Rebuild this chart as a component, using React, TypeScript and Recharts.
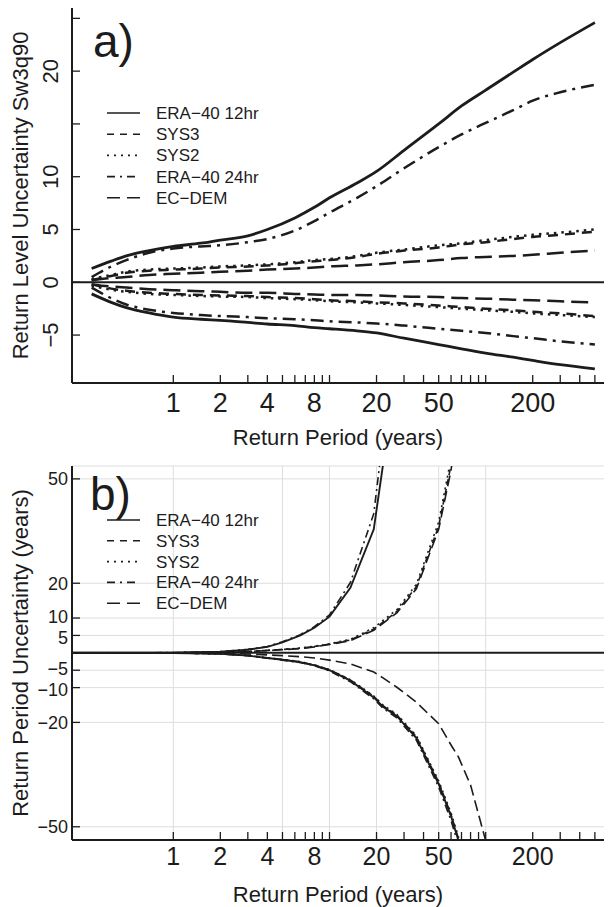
import React from "react";
import { LineChart, Line, XAxis, YAxis, CartesianGrid, ReferenceLine, Legend, Text } from "recharts";

const FONT = '"Liberation Sans", Arial, Helvetica, sans-serif';
const INK = "#1c1c1c";

// ---- panel a: return level uncertainty ----
const periodsA = [0.3, 0.4, 0.5, 0.7, 1, 1.5, 2, 3, 4, 6, 8, 10, 15, 20, 30, 50, 70, 100, 150, 200, 300, 500];
const era12UpA = [1.3, 2.0, 2.5, 3.0, 3.4, 3.7, 4.0, 4.4, 5.0, 6.1, 7.1, 8.0, 9.4, 10.5, 12.5, 15.0, 16.7, 18.2, 19.9, 21.1, 22.7, 24.6];
const era24UpA = [0.5, 1.5, 2.1, 2.8, 3.2, 3.4, 3.5, 3.8, 4.1, 4.9, 5.8, 6.6, 8.0, 9.1, 10.8, 12.8, 14.0, 15.1, 16.3, 17.2, 18.0, 18.7];
const sys3UpA = [0.2, 0.6, 0.9, 1.1, 1.2, 1.3, 1.4, 1.5, 1.6, 1.8, 2.0, 2.1, 2.4, 2.7, 3.0, 3.3, 3.6, 3.8, 4.1, 4.3, 4.5, 4.8];
const sys2UpA = [0.3, 0.7, 1.0, 1.2, 1.3, 1.4, 1.5, 1.6, 1.7, 1.9, 2.1, 2.2, 2.5, 2.8, 3.1, 3.5, 3.7, 4.0, 4.3, 4.5, 4.7, 5.0];
const ecdemUpA = [0.2, 0.4, 0.5, 0.7, 0.8, 0.9, 1.0, 1.1, 1.2, 1.3, 1.4, 1.5, 1.6, 1.7, 1.9, 2.1, 2.3, 2.4, 2.5, 2.6, 2.8, 3.0];
const era12LoA = [-1.1, -1.9, -2.4, -2.9, -3.3, -3.5, -3.6, -3.8, -3.95, -4.1, -4.3, -4.4, -4.6, -4.8, -5.3, -5.9, -6.3, -6.7, -7.1, -7.4, -7.8, -8.2];
const era24LoA = [-0.5, -1.5, -2.1, -2.6, -2.9, -3.1, -3.2, -3.3, -3.4, -3.5, -3.6, -3.7, -3.8, -3.9, -4.1, -4.4, -4.6, -4.8, -5.1, -5.3, -5.6, -5.9];
const sys3LoA = [-0.2, -0.6, -0.8, -1.0, -1.1, -1.2, -1.25, -1.3, -1.4, -1.5, -1.6, -1.7, -1.8, -1.9, -2.0, -2.2, -2.35, -2.5, -2.65, -2.8, -2.95, -3.2];
const sys2LoA = [-0.3, -0.7, -0.9, -1.1, -1.2, -1.3, -1.35, -1.4, -1.5, -1.6, -1.7, -1.8, -1.9, -2.0, -2.15, -2.35, -2.5, -2.65, -2.8, -2.95, -3.1, -3.3];
const ecdemLoA = [-0.2, -0.4, -0.5, -0.65, -0.75, -0.85, -0.9, -1.0, -1.0, -1.1, -1.15, -1.2, -1.2, -1.25, -1.35, -1.4, -1.5, -1.55, -1.65, -1.7, -1.8, -1.9];

// ---- panel b: return period uncertainty ----
const periodsB = [0.2, 1, 2, 3, 4, 5, 6.5, 8, 10, 13.6, 19.2, 22, 27, 36, 50, 60, 67, 80, 100, 110];
const era12UpB = [0, 0.05, 0.3, 0.9, 1.7, 3.0, 5.0, 7.2, 10.4, 18.7, 35.5, 54, 90, null, null, null, null, null, null, null];
const era24UpB = [0, 0.05, 0.35, 1.0, 1.8, 3.2, 5.2, 7.5, 10.9, 20.2, 40, 62, 100, null, null, null, null, null, null, null];
const sys3UpB = [0, 0.02, 0.15, 0.35, 0.7, 0.95, 1.3, 1.8, 2.5, 3.7, 6.8, 8.8, 11.9, 19, 36.4, 54, 70, null, null, null];
const sys2UpB = [0, 0.02, 0.17, 0.38, 0.75, 1.0, 1.35, 1.9, 2.6, 3.9, 7.2, 9.3, 12.4, 19.7, 37.6, 56, 72, null, null, null];
const ecdemUpB = [0, 0.02, 0.14, 0.33, 0.65, 0.9, 1.2, 1.7, 2.4, 3.5, 6.5, 8.5, 11.5, 18.4, 35.5, 52.5, 68, null, null, null];
const era12LoB = [0, -0.05, -0.3, -0.8, -1.5, -2.0, -2.7, -3.6, -5.0, -8.0, -12.8, -15.5, -18.2, -24.5, -37.7, -47, -54, -70, null, null];
const era24LoB = [0, -0.05, -0.3, -0.85, -1.55, -2.1, -2.8, -3.7, -5.2, -8.3, -13.2, -15.9, -18.7, -25.1, -38.6, -48.2, -55.5, -72, null, null];
const sys3LoB = [0, -0.04, -0.28, -0.78, -1.45, -1.95, -2.6, -3.5, -4.9, -7.8, -12.5, -15.2, -17.9, -24.1, -37.2, -46.5, -53.5, -69, null, null];
const sys2LoB = [0, -0.04, -0.28, -0.76, -1.42, -1.9, -2.55, -3.45, -4.8, -7.7, -12.4, -15.0, -17.7, -23.8, -36.8, -46, -53, -68, null, null];
const ecdemLoB = [0, -0.02, -0.15, -0.35, -0.6, -0.8, -1.1, -1.5, -2.1, -3.2, -5.5, -7.2, -9.9, -14.2, -20.4, -26.5, -30, -38, -54, -62];

// ---- axes ----
const seriesNames = ["ERA\u221240 12hr", "SYS3", "SYS2", "ERA\u221240 24hr", "EC\u2212DEM"];
const seriesKeys = ["era12", "sys3", "sys2", "era24", "ecdem"];
const periodTicks = [1, 2, 3, 4, 5, 6, 7, 8, 9, 10, 20, 30, 40, 50, 60, 70, 80, 90, 100, 200, 300, 400, 500];
const periodLabels = [1, 2, 4, 8, 20, 50, 200];
const gridPeriodsB = [1, 5, 10, 20, 50, 100];
const levelTicksA = [-5, 0, 5, 10, 15, 20, 25];
const levelLabelsA = [-5, 0, 5, 10, 20];
const periodUncTicksB = [-50, -20, -10, -5, 5, 10, 20, 50];

const X_DOMAIN = [0.2246, 572];
const Y_DOMAIN_A = [-9.54, 25.98];
const Y_DOMAIN_B = [-53.8, 53.7];

const dashA: Record<string, string | undefined> = { era12: undefined, sys3: "10 7", sys2: "2.5 5", era24: "13 6 3 6", ecdem: "17 7" };
const dashB: Record<string, string | undefined> = { era12: undefined, sys3: "6 4", sys2: "2 4", era24: "8 4 2 4", ecdem: "11 5" };
const dashLegend: Record<string, string | undefined> = { era12: undefined, sys3: "7 6", sys2: "2 5", era24: "8 5 2 5", ecdem: "13 7" };

const minus = (v: number) => (v < 0 ? "\u2212" + Math.abs(v) : String(v));

function buildRows(periods: number[], up: (number | null)[][], lo: (number | null)[][]) {
  return periods.map((t, i) => {
    const row: Record<string, number | null> = { t };
    seriesKeys.forEach((k, j) => {
      row[k + "Up"] = up[j][i];
      row[k + "Lo"] = lo[j][i];
    });
    return row;
  });
}

const rowsA = buildRows(
  periodsA,
  [era12UpA, sys3UpA, sys2UpA, era24UpA, ecdemUpA],
  [era12LoA, sys3LoA, sys2LoA, era24LoA, ecdemLoA]
);
const rowsB = buildRows(
  periodsB,
  [era12UpB, sys3UpB, sys2UpB, era24UpB, ecdemUpB],
  [era12LoB, sys3LoB, sys2LoB, era24LoB, ecdemLoB]
);

const axisLine = { stroke: INK, strokeWidth: 2 };

const BottomTick = (gap: number, size: number) => (p: any) => {
  const v = p.payload.value;
  return (
    <g>
      <line x1={p.x} x2={p.x} y1={p.y} y2={p.y - 8} stroke={INK} strokeWidth={1.3} />
      {periodLabels.includes(v) && (
        <text x={p.x} y={p.y + gap} textAnchor="middle" fontSize={size} fontFamily={FONT} fill={INK}>
          {v}
        </text>
      )}
    </g>
  );
};

const TopTick = (p: any) => <line x1={p.x} x2={p.x} y1={p.y} y2={p.y + 8} stroke={INK} strokeWidth={1.3} />;

const RightTick = (p: any) => <line x1={p.x} x2={p.x + 4} y1={p.y} y2={p.y} stroke="#555" strokeWidth={1.2} />;

// panel a: labels read bottom-to-top
const LeftTickA = (p: any) => {
  const v = p.payload.value;
  return (
    <g>
      <line x1={p.x} x2={p.x + 8} y1={p.y} y2={p.y} stroke={INK} strokeWidth={1.3} />
      {levelLabelsA.includes(v) && (
        <Text
          x={p.x - 14}
          y={p.y}
          angle={-90}
          textAnchor="middle"
          verticalAnchor="end"
          fontSize={22}
          fontFamily={FONT}
          fill={INK}
        >
          {minus(v)}
        </Text>
      )}
    </g>
  );
};

// panel b: the close pairs 5/10 and -5/-10 are eased apart a little
const nudgeB: Record<number, number> = { 10: -2, 5: 2, [-5]: -2, [-10]: 2 };
const LeftTickB = (p: any) => {
  const v = p.payload.value;
  return (
    <g>
      <line x1={p.x} x2={p.x + 8} y1={p.y} y2={p.y} stroke={INK} strokeWidth={1.3} />
      <text x={p.x - 4} y={p.y + (nudgeB[v] || 0)} dy="0.36em" textAnchor="end" fontSize={18} fontFamily={FONT} fill={INK}>
        {minus(v)}
      </text>
    </g>
  );
};

function LegendBox({ gap }: { gap: number }) {
  return (
    <svg width={200} height={120} style={{ display: "block" }}>
      {seriesKeys.map((k, i) => {
        const cy = 8 + i * gap;
        return (
          <g key={k}>
            <line x1={0} x2={33} y1={cy} y2={cy} stroke={INK} strokeWidth={1.6} strokeDasharray={dashLegend[k]} />
            <text x={49} y={cy + 6} fontSize={17} fontFamily={FONT} fill={INK}>
              {seriesNames[i]}
            </text>
          </g>
        );
      })}
    </svg>
  );
}

function renderLines(dash: Record<string, string | undefined>, width: number, type: "monotone" | "linear") {
  const out: React.ReactNode[] = [];
  seriesKeys.forEach((k, i) => {
    ["Up", "Lo"].forEach((side) => {
      out.push(
        <Line
          key={k + side}
          dataKey={k + side}
          name={seriesNames[i]}
          type={type}
          stroke={INK}
          strokeWidth={k === "era12" ? width + 0.3 : width}
          strokeDasharray={dash[k]}
          dot={false}
          activeDot={false}
          connectNulls
          legendType="none"
          isAnimationActive={false}
        />
      );
    });
  });
  return out;
}

function PanelLabel({ text, left, top }: { text: string; left: number; top: number }) {
  return (
    <svg width={80} height={60} style={{ position: "absolute", left, top }}>
      <text x={0} y={50} fontSize={46} fontFamily={FONT} fill={INK}>
        {text}
      </text>
    </svg>
  );
}

export default function App() {
  return (
    <div style={{ position: "absolute", left: 0, top: 0, width: 609, height: 907, background: "#fff", fontFamily: FONT }}>
      <div style={{ position: "absolute", left: 0, top: 0 }}>
        <LineChart width={609} height={460} data={rowsA} margin={{ top: 8, right: 5, bottom: 0, left: 0 }}>
          <XAxis
            dataKey="t"
            type="number"
            scale="log"
            domain={X_DOMAIN}
            allowDataOverflow
            ticks={periodTicks}
            interval={0}
            height={77}
            tickSize={0}
            tickMargin={0}
            tickLine={false}
            axisLine={axisLine}
            tick={BottomTick(29, 27)}
            label={{ value: "Return Period (years)", position: "insideBottom", offset: 15, fontSize: 22, fill: INK, fontFamily: FONT }}
          />
          <XAxis
            xAxisId="top"
            orientation="top"
            dataKey="t"
            type="number"
            scale="log"
            domain={X_DOMAIN}
            allowDataOverflow
            ticks={periodTicks}
            interval={0}
            height={0}
            tickSize={0}
            tickMargin={0}
            tickLine={false}
            axisLine={axisLine}
            tick={TopTick}
          />
          <YAxis
            type="number"
            domain={Y_DOMAIN_A}
            allowDataOverflow
            ticks={levelTicksA}
            interval={0}
            width={72}
            tickSize={0}
            tickMargin={0}
            tickLine={false}
            axisLine={axisLine}
            tick={LeftTickA}
            label={{
              value: "Return Level Uncertainty Sw3q90",
              angle: -90,
              position: "insideLeft",
              offset: 20,
              fontSize: 22,
              fill: INK,
              fontFamily: FONT,
              style: { textAnchor: "middle" },
            }}
          />
          <YAxis
            yAxisId="right"
            orientation="right"
            type="number"
            domain={Y_DOMAIN_A}
            allowDataOverflow
            ticks={levelTicksA}
            interval={0}
            width={0}
            tickSize={0}
            tickMargin={0}
            tickLine={false}
            axisLine={false}
            tick={RightTick}
          />
          <ReferenceLine y={0} stroke={INK} strokeWidth={2} />
          {renderLines(dashA, 2.5, "monotone")}
          <Legend
            layout="vertical"
            align="center"
            verticalAlign="middle"
            wrapperStyle={{ position: "absolute", left: 107, top: 105, width: 200, height: 120 }}
            content={() => <LegendBox gap={21.2} />}
          />
        </LineChart>
        <PanelLabel text="a)" left={93} top={7} />
      </div>

      <div style={{ position: "absolute", left: 0, top: 460 }}>
        <LineChart width={609} height={447} data={rowsB} margin={{ top: 6, right: 5, bottom: 0, left: 0 }}>
          <CartesianGrid vertical={false} stroke="#dedede" strokeWidth={1} />
          {gridPeriodsB.map((p) => (
            <ReferenceLine key={p} x={p} stroke="#dedede" strokeWidth={1} />
          ))}
          <XAxis
            dataKey="t"
            type="number"
            scale="log"
            domain={X_DOMAIN}
            allowDataOverflow
            ticks={periodTicks}
            interval={0}
            height={67}
            tickSize={0}
            tickMargin={0}
            tickLine={false}
            axisLine={axisLine}
            tick={BottomTick(25, 25)}
            label={{ value: "Return Period (years)", position: "insideBottom", offset: 5, fontSize: 22, fill: INK, fontFamily: FONT }}
          />
          <XAxis
            xAxisId="top"
            orientation="top"
            dataKey="t"
            type="number"
            scale="log"
            domain={X_DOMAIN}
            allowDataOverflow
            ticks={periodTicks}
            interval={0}
            height={0}
            tickSize={0}
            tickMargin={0}
            tickLine={false}
            axisLine={axisLine}
            tick={TopTick}
          />
          <YAxis
            type="number"
            domain={Y_DOMAIN_B}
            allowDataOverflow
            ticks={periodUncTicksB}
            interval={0}
            width={72}
            tickSize={0}
            tickMargin={0}
            tickLine={false}
            axisLine={axisLine}
            tick={LeftTickB}
            label={{
              value: "Return Period Uncertainty (years)",
              angle: -90,
              position: "insideLeft",
              offset: 20,
              fontSize: 22,
              fill: INK,
              fontFamily: FONT,
              style: { textAnchor: "middle" },
            }}
          />
          <YAxis
            yAxisId="right"
            orientation="right"
            type="number"
            domain={Y_DOMAIN_B}
            allowDataOverflow
            ticks={periodUncTicksB}
            interval={0}
            width={0}
            tickSize={0}
            tickMargin={0}
            tickLine={false}
            axisLine={false}
            tick={RightTick}
          />
          <ReferenceLine y={0} stroke={INK} strokeWidth={2} />
          {renderLines(dashB, 1.6, "linear")}
          <Legend
            layout="vertical"
            align="center"
            verticalAlign="middle"
            wrapperStyle={{ position: "absolute", left: 107, top: 52, width: 200, height: 120 }}
            content={() => <LegendBox gap={20.8} />}
          />
        </LineChart>
        <PanelLabel text="b)" left={90} top={0} />
      </div>
    </div>
  );
}
